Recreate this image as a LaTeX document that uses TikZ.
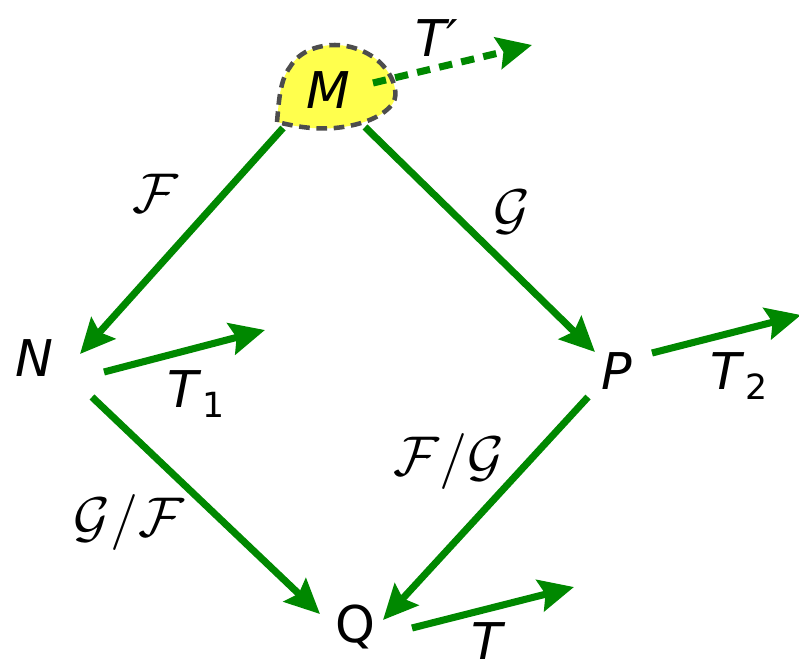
\documentclass[tikz,border=0pt]{standalone}
\usepackage{fontspec}
\usepackage{graphicx}
\setmainfont{DejaVu Sans}
\usetikzlibrary{arrows.meta}
\definecolor{arrgreen}{RGB}{0,136,0}
\definecolor{blobfill}{RGB}{255,255,77}
\definecolor{blobline}{RGB}{77,77,77}
\newcommand{\bigmath}[1]{\scalebox{4.2}{$#1$}}
\tikzset{
  lbl/.style={font=\fontsize{38}{45}\selectfont\itshape, inner sep=0pt},
  ulbl/.style={font=\fontsize{38}{45}\selectfont, inner sep=0pt},
  mlbl/.style={inner sep=0pt},
  garrow/.style={draw=arrgreen, line width=5.3pt,
    -{Stealth[length=26pt,width=24pt,inset=4pt]}},
  dgarrow/.style={garrow, dash pattern=on 10pt off 7pt},
}
\begin{document}
\begin{tikzpicture}[x=0.75pt,y=-0.75pt]
\useasboundingbox (0,0) rectangle (799,661);
% blob
\path[fill=blobfill, draw=blobline, line width=3.4pt, dash pattern=on 8pt off 5pt]
  (277,122) .. controls (279,100) and (280,80) .. (290,67)
  .. controls (300,50) and (320,45) .. (335,45)
  .. controls (355,45) and (375,55) .. (385,68)
  .. controls (395,80) and (398,95) .. (393,103)
  .. controls (385,115) and (365,125) .. (335,128)
  .. controls (310,130) and (290,125) .. (277,122) -- cycle;
% labels
\node[lbl] (M) at (328,90) {M};
\node[lbl] (N) at (34,358) {N};
\node[lbl] (P) at (617,371) {P};
\node[ulbl] (Q) at (355,627) {Q};
\node[lbl] (Tp) at (437,38) {T′};
\node[lbl] (T1) at (196,394) {T\textup{\fontsize{26}{30}\selectfont\raisebox{-8pt}{1}}};
\node[lbl] (T2) at (739,376) {T\textup{\fontsize{26}{30}\selectfont\raisebox{-8pt}{2}}};
\node[lbl] (T) at (487,641) {T};
\node[mlbl] (F) at (155,193) {\bigmath{\mathcal{F}}};
\node[mlbl] (G) at (512,212) {\bigmath{\mathcal{G}}};
\node[mlbl] (FG) at (449,461) {\bigmath{\mathcal{F}/\mathcal{G}}};
\node[mlbl] (GF) at (129,522) {\bigmath{\mathcal{G}/\mathcal{F}}};
% connector endpoints
\coordinate (mA) at (283,128);
\coordinate (mB) at (365,127);
\coordinate (mC) at (373,83);
\coordinate (tpE) at (532,45);
\coordinate (nE) at (80,354);
\coordinate (nA) at (92,397);
\coordinate (nT) at (104,372);
\coordinate (t1E) at (265,330);
\coordinate (pE) at (595,352);
\coordinate (pA) at (588,397);
\coordinate (pT) at (652,353);
\coordinate (t2E) at (801,315);
\coordinate (qE1) at (320,614);
\coordinate (qE2) at (383,620);
\coordinate (qT) at (412,628);
\coordinate (tE) at (574,587);
% connectors
\draw[garrow] (mA) -- (nE);
\draw[garrow] (mB) -- (pE);
\draw[garrow] (nA) -- (qE1);
\draw[garrow] (pA) -- (qE2);
\draw[garrow] (nT) -- (t1E);
\draw[garrow] (pT) -- (t2E);
\draw[garrow] (qT) -- (tE);
\draw[dgarrow] (mC) -- (tpE);
\end{tikzpicture}
\end{document}
